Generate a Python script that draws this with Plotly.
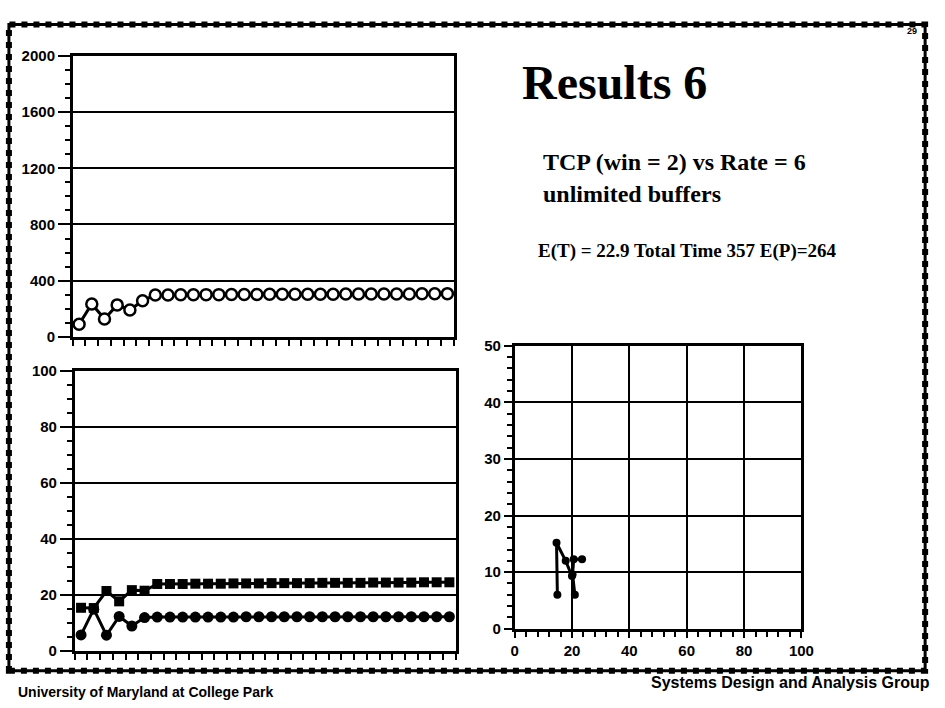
import plotly.graph_objects as go

# Time index shared by the two left-hand panels
steps = list(range(1, 31))

# Upper-left panel: hollow-circle series
upper_series = [90, 235, 128, 228, 192, 258, 298, 299, 300, 300,
                301, 301, 302, 302, 302, 303, 303, 303, 304, 304,
                304, 305, 305, 305, 306, 306, 306, 307, 307, 308]

# Lower-left panel: square and filled-circle series
square_series = [15.5, 15.4, 21.5, 17.8, 21.8, 21.6, 24.0, 24.0, 24.0, 24.1,
                 24.1, 24.1, 24.2, 24.2, 24.2, 24.3, 24.3, 24.3, 24.3, 24.4,
                 24.4, 24.4, 24.4, 24.5, 24.5, 24.5, 24.5, 24.6, 24.6, 24.6]
circle_series = [5.8, 15.0, 5.7, 12.4, 9.0, 12.0, 12.2, 12.2, 12.2, 12.2,
                 12.2, 12.2, 12.2, 12.3, 12.3, 12.3, 12.3, 12.3, 12.3, 12.3,
                 12.3, 12.3, 12.3, 12.3, 12.3, 12.3, 12.3, 12.3, 12.3, 12.3]

# Lower-right panel: trajectory points
traj_x = [14.9, 14.6, 17.8, 20.0, 21.0, 20.2, 20.6, 23.5]
traj_y = [6.0, 15.2, 12.0, 9.3, 6.0, 9.6, 12.3, 12.3]

# Axis tick values
upper_yticks = [0, 400, 800, 1200, 1600, 2000]
lower_yticks = [0, 20, 40, 60, 80, 100]
right_xticks = [0, 20, 40, 60, 80, 100]
right_yticks = [0, 10, 20, 30, 40, 50]
step_ticks = [k + 0.5 for k in range(0, 31)]

W, H = 945, 708
BLACK = "black"
tickfont = dict(family="Liberation Sans", size=15, color=BLACK, weight="bold")


def px_x(p):
    return p / W


def px_y(p):
    return 1 - p / H


fig = go.Figure()

fig.add_trace(go.Scatter(
    x=steps, y=upper_series, mode="lines+markers", xaxis="x", yaxis="y",
    line=dict(color=BLACK, width=3),
    marker=dict(symbol="circle", size=11, color="white",
                line=dict(color=BLACK, width=2.5)),
    showlegend=False, cliponaxis=False))

fig.add_trace(go.Scatter(
    x=steps, y=square_series, mode="lines+markers", xaxis="x2", yaxis="y2",
    line=dict(color=BLACK, width=3),
    marker=dict(symbol="square", size=10, color=BLACK),
    showlegend=False, cliponaxis=False))

fig.add_trace(go.Scatter(
    x=steps, y=circle_series, mode="lines+markers", xaxis="x2", yaxis="y2",
    line=dict(color=BLACK, width=3),
    marker=dict(symbol="circle", size=11, color=BLACK),
    showlegend=False, cliponaxis=False))

fig.add_trace(go.Scatter(
    x=traj_x, y=traj_y, mode="lines+markers", xaxis="x3", yaxis="y3",
    line=dict(color=BLACK, width=3),
    marker=dict(symbol="circle", size=8, color=BLACK),
    showlegend=False, cliponaxis=False))

step_axis = dict(
    range=[0.5, 30.5], tickvals=step_ticks, showticklabels=False,
    ticks="outside", ticklen=6, tickwidth=2, tickcolor=BLACK,
    showline=True, linecolor=BLACK, linewidth=2.5, mirror=True,
    showgrid=False, zeroline=False, fixedrange=True)

fig.update_layout(
    width=W, height=H,
    margin=dict(l=0, r=0, t=0, b=0),
    paper_bgcolor="white", plot_bgcolor="white",
    xaxis=dict(domain=[px_x(70), px_x(458)], anchor="y", **step_axis),
    yaxis=dict(
        domain=[px_y(336), px_y(48)], anchor="x", range=[0, 2000],
        tickvals=upper_yticks, ticks="outside", ticklen=12, tickwidth=2,
        tickcolor=BLACK, tickfont=tickfont,
        minor=dict(dtick=100, ticks="outside", ticklen=5, tickwidth=2,
                   tickcolor=BLACK, showgrid=False),
        showgrid=True, gridcolor=BLACK, gridwidth=2,
        showline=True, linecolor=BLACK, linewidth=2.5, mirror=True,
        zeroline=False),
    xaxis2=dict(domain=[px_x(72), px_x(460)], anchor="y2", **step_axis),
    yaxis2=dict(
        domain=[px_y(658), px_y(371)], anchor="x2", range=[0, 100],
        tickvals=lower_yticks, ticks="outside", ticklen=12, tickwidth=2,
        tickcolor=BLACK, tickfont=tickfont,
        minor=dict(dtick=5, ticks="outside", ticklen=5, tickwidth=2,
                   tickcolor=BLACK, showgrid=False),
        showgrid=True, gridcolor=BLACK, gridwidth=2,
        showline=True, linecolor=BLACK, linewidth=2.5, mirror=True,
        zeroline=False),
    xaxis3=dict(
        domain=[px_x(520), px_x(812)], anchor="y3", range=[0, 100],
        tickvals=right_xticks, ticks="outside", ticklen=6, tickwidth=2,
        tickcolor=BLACK, tickfont=tickfont,
        minor=dict(dtick=4, ticks="outside", ticklen=5, tickwidth=2,
                   tickcolor=BLACK, showgrid=False),
        showgrid=True, gridcolor=BLACK, gridwidth=2,
        showline=True, linecolor=BLACK, linewidth=2.5, mirror=True,
        zeroline=False),
    yaxis3=dict(
        domain=[px_y(635), px_y(345)], anchor="x3", range=[0, 50],
        tickvals=right_yticks, ticks="outside", ticklen=8, tickwidth=2,
        tickcolor=BLACK, tickfont=tickfont,
        minor=dict(dtick=2, ticks="outside", ticklen=5, tickwidth=2,
                   tickcolor=BLACK, showgrid=False),
        showgrid=True, gridcolor=BLACK, gridwidth=2,
        showline=True, linecolor=BLACK, linewidth=2.5, mirror=True,
        zeroline=False),
)

# Slide frame
frame = dict(type="rect", xref="paper", yref="paper",
             x0=px_x(5), x1=px_x(938), y0=px_y(678), y1=px_y(16))
fig.add_shape(**frame, line=dict(color=BLACK, width=3))
fig.add_shape(**frame, line=dict(color=BLACK, width=6, dash="dot"))

serif = "Liberation Serif"
sans = "Liberation Sans"


def note(text, x, y, size, family, xanchor="left"):
    fig.add_annotation(
        text=text, x=px_x(x), y=px_y(y), xref="paper", yref="paper",
        xanchor=xanchor, yanchor="middle", showarrow=False,
        font=dict(family=family, size=size, color=BLACK, weight="bold"))


note("Results 6", 525, 75, 48, serif)
note("TCP (win = 2) vs Rate = 6", 547, 157, 24, serif)
note("unlimited buffers", 547, 190, 24, serif)
note("E(T) = 22.9 Total Time 357 E(P)=264", 542, 248, 19, serif)
note("29", 918, 23, 9, sans)
note("University of Maryland at College Park", 12, 700, 14, sans)
note("Systems Design and Analysis Group", 945, 690, 16, sans, xanchor="right")

fig.write_html("out.html")
